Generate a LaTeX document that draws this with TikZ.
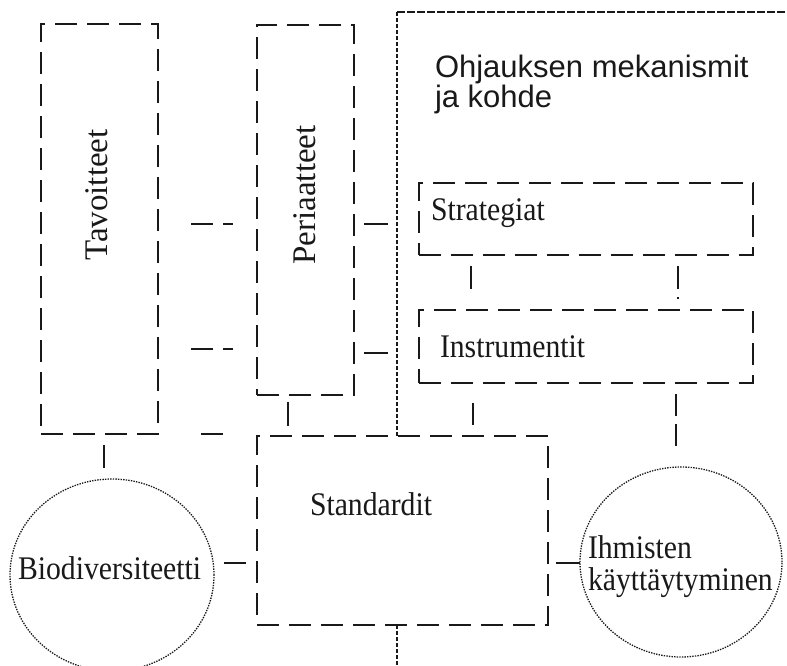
\documentclass[tikz,border=0pt]{standalone}
\usepackage{fontspec}
\setmainfont{Liberation Serif}[FakeStretch=0.9]
\newfontfamily\rotfont{Liberation Serif}
\newfontfamily\titlefont{Liberation Sans}
\usetikzlibrary{shapes.geometric}
\begin{document}
\begin{tikzpicture}[x=1pt,y=-1pt,
  box/.style={draw=black!90, line width=1.3pt, dash pattern=on 22pt off 10pt, rectangle, inner sep=0pt, outer sep=0pt, anchor=north west},
  oval/.style={draw=black!90, line width=1.3pt, dash pattern=on 1.4pt off 1.2pt, ellipse, inner sep=0pt, outer sep=0pt},
  lbl/.style={inner sep=0pt, outer sep=0pt, text=black!90, font=\fontsize{33}{33}\selectfont},
  rlbl/.style={inner sep=0pt, outer sep=0pt, text=black!90, font=\rotfont\fontsize{33}{33}\selectfont, rotate=90, anchor=base},
  ttl/.style={inner sep=0pt, outer sep=0pt, anchor=base west, text=black!90, font=\titlefont\fontsize{31}{30}\selectfont},
  conn/.style={draw=black!90, line width=1.3pt},
  dconn/.style={conn, dash pattern=on 22pt off 10pt},
  framev/.style={draw=black!90, line width=1.4pt, dash pattern=on 4pt off 2pt},
  frameh/.style={draw=black!90, line width=1.4pt, dash pattern=on 8pt off 2pt}]
\useasboundingbox (0,0) rectangle (787,665);
\clip (0,0) rectangle (787,665);
% boxes
\node[box, minimum width=117pt, minimum height=410pt] (tav) at (41,24) {};
\node[box, minimum width=97pt, minimum height=370pt] (per) at (257,25) {};
\node[box, minimum width=334pt, minimum height=72pt] (str) at (419,183) {};
\node[box, minimum width=334pt, minimum height=73pt] (ins) at (419,310) {};
\node[box, minimum width=291pt, minimum height=189pt] (std) at (257,436) {};
\node[oval, minimum width=204pt, minimum height=192pt] (bio) at (112,575) {};
\node[oval, minimum width=202pt, minimum height=190pt] (ihm) at (681,562) {};
% texts
\node[rlbl] (tavt) at (107,195) {Tavoitteet};
\node[rlbl] (pert) at (315,195) {Periaatteet};
\node[lbl, anchor=base west] (strt) at (431,220) {Strategiat};
\node[lbl, anchor=base west] (inst) at (440,357) {Instrumentit};
\node[lbl, anchor=base west] (stdt) at (310,515) {Standardit};
\node[lbl, anchor=base west] (biot) at (18,579) {Biodiversiteetti};
\node[lbl, anchor=base west] (ihmt1) at (588,558) {Ihmisten};
\node[lbl, anchor=base west] (ihmt2) at (588,590) {käyttäytyminen};
\node[ttl] (tit1) at (435,77) {Ohjauksen mekanismit};
\node[ttl] (tit2) at (435,107) {ja kohde};
% frame of the steering mechanisms
\coordinate (fa) at (397,436);
\coordinate (fb) at (397,12);
\coordinate (fc) at (787,12);
\coordinate (fd) at (397,625);
\coordinate (fe) at (397,665);
\draw[framev] (fa) -- (fb);
\draw[frameh] (fb) -- (fc);
\draw[framev] (fd) -- (fe);
% connectors
\coordinate (c1a) at (191,224); \coordinate (c1b) at (233,224);
\coordinate (c2a) at (191,349); \coordinate (c2b) at (233,349);
\coordinate (c3a) at (364,224); \coordinate (c3b) at (388,224);
\coordinate (c4a) at (364,353); \coordinate (c4b) at (388,353);
\coordinate (c5a) at (288,402); \coordinate (c5b) at (288,426);
\coordinate (c6a) at (201,434); \coordinate (c6b) at (223,434);
\coordinate (c7a) at (104,445); \coordinate (c7b) at (104,468);
\coordinate (c8a) at (224,563); \coordinate (c8b) at (246,563);
\coordinate (c9a) at (556,563); \coordinate (c9b) at (580,563);
\coordinate (c10a) at (471,266); \coordinate (c10b) at (471,289);
\coordinate (c11a) at (678,266); \coordinate (c11b) at (678,289);
\coordinate (c11c) at (678,297); \coordinate (c11d) at (678,299);
\coordinate (c12a) at (473,403); \coordinate (c12b) at (473,425);
\coordinate (c13a) at (676,394); \coordinate (c13b) at (676,447);
\draw[dconn] (c1a) -- (c1b);
\draw[dconn] (c2a) -- (c2b);
\draw[conn] (c3a) -- (c3b);
\draw[conn] (c4a) -- (c4b);
\draw[conn] (c5a) -- (c5b);
\draw[conn] (c6a) -- (c6b);
\draw[conn] (c7a) -- (c7b);
\draw[conn] (c8a) -- (c8b);
\draw[conn] (c9a) -- (c9b);
\draw[conn] (c10a) -- (c10b);
\draw[conn] (c11a) -- (c11b);
\draw[conn] (c11c) -- (c11d);
\draw[conn] (c12a) -- (c12b);
\draw[conn, dash pattern=on 22pt off 8pt] (c13a) -- (c13b);
\end{tikzpicture}
\end{document}
